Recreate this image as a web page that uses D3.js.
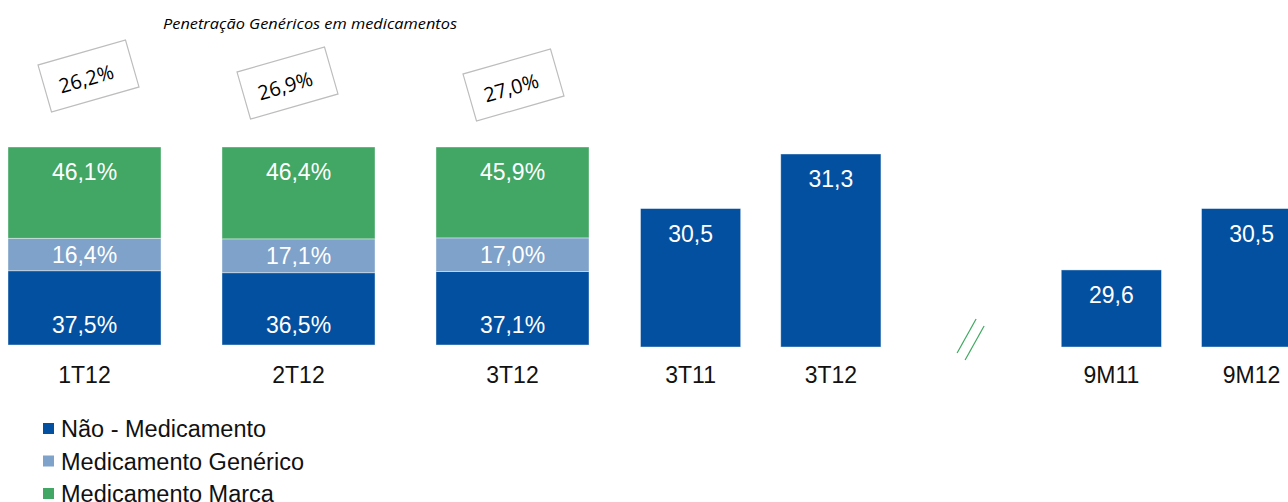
<!DOCTYPE html>
<html>
<head>
<meta charset="utf-8">
<script src="https://cdn.jsdelivr.net/npm/d3@7"></script>
<style>
    body { margin: 0; background: #fff; }
    #chart { width: 1288px; height: 502px; }
    text { font-family: "Liberation Sans", Arial, sans-serif; }
</style>
</head>
<body>
<div id="chart"></div>
<script>
// mix de vendas (% of stacked bars)
const stackCats = ["1T12", "2T12", "3T12"];
const naoMedicamento = [37.5, 36.5, 37.1];
const medGenerico = [16.4, 17.1, 17.0];
const medMarca = [46.1, 46.4, 45.9];
// penetracao genericos em medicamentos
const penetracao = [26.2, 26.9, 27.0];

// right side bars
const salesCats = ["3T11", "3T12", "9M11", "9M12"];
const salesVals = [30.5, 31.3, 29.6, 30.5];

const seriesNames = ["Não - Medicamento", "Medicamento Genérico", "Medicamento Marca"];

class mixChart {
    constructor(parentElement) {
        this.parentElement = parentElement;
        this.initvis();
    }

    initvis() {
        let vis = this;

        vis.width = 1288;
        vis.height = 502;
        vis.colors = ["#0450a0", "#7ea2c9", "#42a664"];

        vis.svg = d3.select("#" + vis.parentElement).append("svg")
            .attr("width", vis.width)
            .attr("height", vis.height);

        vis.locale = d3.formatLocale({decimal: ",", thousands: ".", grouping: [3], currency: ["R$", ""]});
        vis.fmt = vis.locale.format(".1f");

        // stacked part
        vis.xStack = d3.scaleBand()
            .domain(stackCats)
            .range([8, 589])
            .paddingInner(0.285)
            .paddingOuter(0);

        vis.yPct = d3.scaleLinear()
            .domain([0, 100])
            .range([345, 147]);

        // simple bars, with an empty slot for the break
        vis.xSales = d3.scaleBand()
            .domain(["3T11", "3T12", "quebra", "9M11", "9M12"])
            .range([640.5, 1301.7])
            .paddingInner(0.2857)
            .paddingOuter(0);

        vis.ySales = d3.scaleLinear()
            .domain([28.47, 31.3])
            .range([347, 154]);

        vis.wrangleData();
    }

    wrangleData() {
        let vis = this;
        vis.stackRows = stackCats.map((c, i) => ({
            cat: c, nao: naoMedicamento[i], gen: medGenerico[i], marca: medMarca[i]
        }));
        vis.series = d3.stack().keys(["nao", "gen", "marca"])(vis.stackRows);
        vis.updatevis();
    }

    updatevis() {
        let vis = this;
        let bw = vis.xStack.bandwidth();

        // stacked bars
        let layers = vis.svg.selectAll(".layer")
            .data(vis.series)
            .enter()
            .append("g")
            .attr("class", "layer")
            .attr("fill", (d, i) => vis.colors[i]);

        layers.selectAll("rect")
            .data(d => d)
            .enter()
            .append("rect")
            .attr("x", d => vis.xStack(d.data.cat))
            .attr("y", d => vis.yPct(d[1]))
            .attr("width", bw)
            .attr("height", d => vis.yPct(d[0]) - vis.yPct(d[1]))
            .attr("stroke", "#fff")
            .attr("stroke-opacity", 0.5)
            .attr("stroke-width", 0.8);

        // labels inside segments
        layers.each(function (s, si) {
            d3.select(this).selectAll("text")
                .data(s)
                .enter()
                .append("text")
                .attr("x", d => vis.xStack(d.data.cat) + bw / 2)
                .attr("y", d => {
                    if (si === 0) return vis.yPct(d[0]) - 20;
                    if (si === 1) return (vis.yPct(d[0]) + vis.yPct(d[1])) / 2;
                    return vis.yPct(d[1]) + 25;
                })
                .attr("dy", "0.36em")
                .attr("text-anchor", "middle")
                .attr("fill", "#fff")
                .style("font-size", "23px")
                .text(d => vis.fmt(d[1] - d[0]) + "%");
        });

        // category labels of stacked bars
        vis.svg.selectAll(".stackLabel")
            .data(stackCats)
            .enter()
            .append("text")
            .attr("class", "stackLabel")
            .attr("x", d => vis.xStack(d) + bw / 2)
            .attr("y", 375)
            .attr("dy", "0.36em")
            .attr("text-anchor", "middle")
            .attr("fill", "#111")
            .style("font-size", "23px")
            .text(d => d);

        // penetration title + tilted boxes
        vis.svg.append("text")
            .attr("x", 163)
            .attr("y", 29)
            .attr("textLength", 294)
            .attr("lengthAdjust", "spacingAndGlyphs")
            .style("font-family", "'Open Sans', sans-serif")
            .style("font-style", "italic")
            .style("font-size", "15px")
            .attr("fill", "#000")
            .text("Penetração Genéricos em medicamentos");

        let boxShift = [4, -11, 1];
        let boxY = [76, 83, 85];
        let boxes = vis.svg.selectAll(".penBox")
            .data(penetracao)
            .enter()
            .append("g")
            .attr("class", "penBox")
            .attr("transform", (d, i) => "translate(" + (vis.xStack(stackCats[i]) + bw / 2 + boxShift[i]) + "," + boxY[i] + ") rotate(-16)");

        boxes.append("rect")
            .attr("x", -45.5)
            .attr("y", -24.5)
            .attr("width", 91)
            .attr("height", 49)
            .attr("fill", "#fff")
            .attr("stroke", "#bdbdbd")
            .attr("stroke-width", 1.2);

        boxes.append("text")
            .attr("x", -3)
            .attr("y", 2)
            .attr("dy", "0.36em")
            .attr("text-anchor", "middle")
            .style("font-family", "'Open Sans', sans-serif")
            .style("font-size", "20px")
            .attr("fill", "#000")
            .text(d => vis.fmt(d) + "%");

        // simple bars
        let sw = vis.xSales.bandwidth();
        vis.svg.selectAll(".salesBar")
            .data(salesVals)
            .enter()
            .append("rect")
            .attr("class", "salesBar")
            .attr("x", (d, i) => vis.xSales(salesCats[i]))
            .attr("y", d => vis.ySales(d))
            .attr("width", sw)
            .attr("height", d => vis.ySales.range()[0] - vis.ySales(d))
            .attr("fill", vis.colors[0])
            .attr("stroke", "#fff")
            .attr("stroke-opacity", 0.5)
            .attr("stroke-width", 0.8);

        vis.svg.selectAll(".salesVal")
            .data(salesVals)
            .enter()
            .append("text")
            .attr("class", "salesVal")
            .attr("x", (d, i) => vis.xSales(salesCats[i]) + sw / 2)
            .attr("y", d => vis.ySales(d) + 25)
            .attr("dy", "0.36em")
            .attr("text-anchor", "middle")
            .attr("fill", "#fff")
            .style("font-size", "23px")
            .text(d => vis.fmt(d));

        vis.svg.selectAll(".salesLabel")
            .data(salesCats)
            .enter()
            .append("text")
            .attr("class", "salesLabel")
            .attr("x", d => vis.xSales(d) + sw / 2)
            .attr("y", 375)
            .attr("dy", "0.36em")
            .attr("text-anchor", "middle")
            .attr("fill", "#111")
            .style("font-size", "23px")
            .text(d => d);

        // axis break marks
        let bx = vis.xSales("quebra") + sw / 2;
        [[-14, 353, 5, 319], [-6, 360, 13, 326]].forEach(l => {
            vis.svg.append("line")
                .attr("x1", bx + l[0]).attr("y1", l[1])
                .attr("x2", bx + l[2]).attr("y2", l[3])
                .attr("stroke", "#3da85f")
                .attr("stroke-width", 1.2);
        });

        // legend
        let legend = vis.svg.selectAll(".legendItem")
            .data(seriesNames)
            .enter()
            .append("g")
            .attr("class", "legendItem")
            .attr("transform", (d, i) => "translate(43," + (429 + i * 32.5) + ")");

        legend.append("rect")
            .attr("x", 0)
            .attr("y", -6)
            .attr("width", 11)
            .attr("height", 11)
            .attr("fill", (d, i) => vis.colors[i]);

        legend.append("text")
            .attr("x", 18)
            .attr("y", 0)
            .attr("dy", "0.36em")
            .attr("fill", "#111")
            .style("font-size", "23.5px")
            .text(d => d);
    }
}

new mixChart("chart");
</script>
</body>
</html>
